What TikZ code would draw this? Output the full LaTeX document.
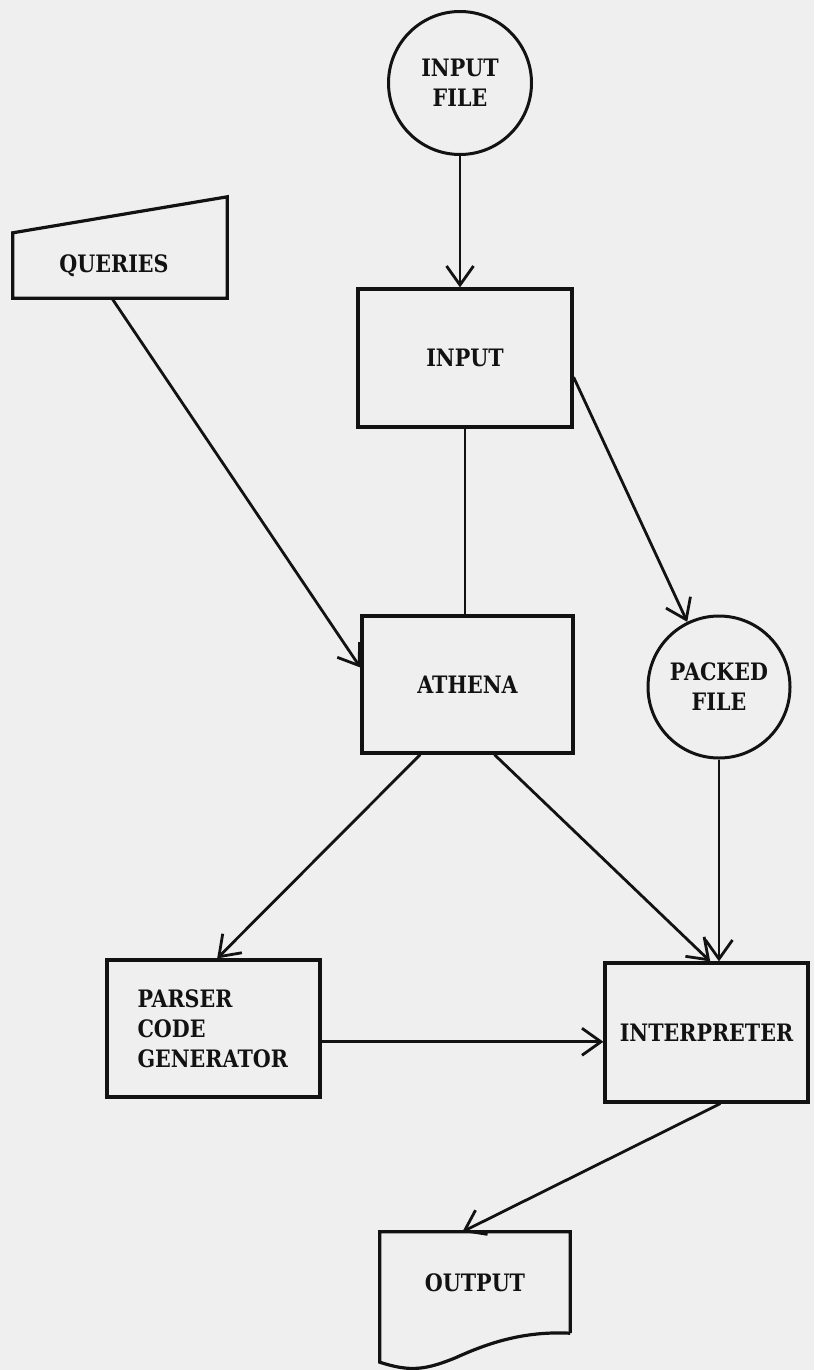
\documentclass[tikz,border=0pt]{standalone}
\usepackage{fontspec}
\setmainfont{DejaVu Serif}[FakeStretch=0.86]
\usetikzlibrary{arrows.meta,calc}
\definecolor{paper}{RGB}{239,239,239}
\definecolor{ink}{RGB}{18,18,18}
\begin{document}
\begin{tikzpicture}[x=1pt,y=-1pt,
  lab/.style={font=\bfseries\fontsize{24}{30}\selectfont, text=ink, align=center},
  boxnode/.style={draw=ink, line width=3.2pt, rectangle, inner sep=0pt, lab},
  circnode/.style={draw=ink, line width=3pt, circle, inner sep=0pt, lab},
  conn/.style={draw=ink, line width=2.8pt},
  arr/.style={conn, -{Straight Barb[length=19pt,width=27pt,line width=2.8pt]}}]
\fill[paper] (0,0) rectangle (814,1370);
\useasboundingbox (0,0) rectangle (814,1370);

% nodes
\node[circnode, minimum size=143pt] (inputfile) at (460,83) {INPUT\\FILE};
\node[boxnode, minimum width=214pt, minimum height=138pt] (input) at (465,358) {INPUT};
\node[boxnode, minimum width=211pt, minimum height=137pt] (athena) at (467.5,684.5) {ATHENA};
\node[circnode, minimum size=142pt] (packed) at (719,687) {PACKED\\FILE};
\node[boxnode, minimum width=213pt, minimum height=137pt, align=left, text width=152pt] (parser) at (213.5,1028.5) {PARSER\\CODE\\GENERATOR};
\node[boxnode, minimum width=203pt, minimum height=139pt] (interp) at (706.5,1032.5) {INTERPRETER};
\node[lab, rectangle, inner sep=0pt, minimum width=214pt, minimum height=65pt] (queries) at (120,265.5) {\hspace*{-12pt}\raisebox{-5pt}{QUERIES}};
\node[lab, rectangle, inner sep=0pt, minimum width=190pt, minimum height=101pt] (output) at (475,1282.5) {OUTPUT};

% special shapes
\draw[conn, line width=3.2pt, line join=miter] (queries.south west) -- (queries.south east) -- ([yshift=36pt]queries.north east) -- (queries.north west) -- cycle;
\draw[conn, line width=3.2pt] (output.south east) -- (output.north east) -- (output.north west) -- ([yshift=-29pt]output.south west)
  .. controls (410,1372) and (425,1370) .. (455,1358)
  .. controls (490,1342) and (525,1331) .. (output.south east);

% connectors
\draw[arr] (inputfile.south) -- (inputfile.south |- input.north);
\draw[conn] (input.south) -- (input.south |- athena.north);
\draw[arr] (input.-10) -- (packed.116);
\draw[arr] (queries.-104) -- (athena.171);
\draw[arr] (athena.-124.7) -- (parser.87);
\draw[arr] (athena.-69.6) -- (interp.87);
\draw[arr] (packed.south) -- (packed.south |- interp.north);
\draw[arr] (parser.-7.2) -- (parser.-7.2 -| interp.west);
\draw[arr] (interp.-79) -- (output.104);
\end{tikzpicture}
\end{document}
